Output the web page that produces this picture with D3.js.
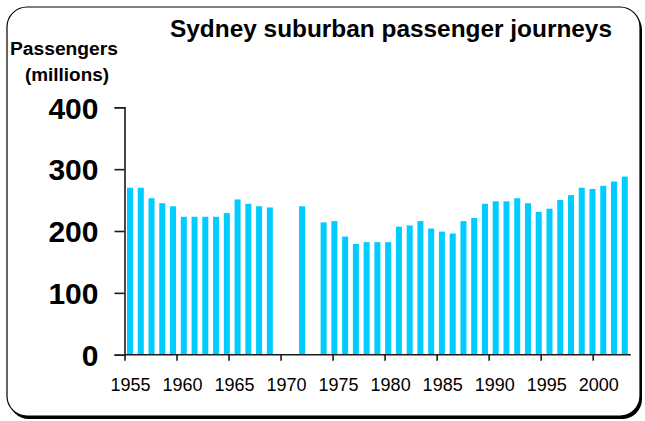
<!DOCTYPE html>
<html>
<head>
<meta charset="utf-8">
<script src="https://cdn.jsdelivr.net/npm/d3@7"></script>
<style>
  html, body { margin: 0; padding: 0; background: #fff; }
  svg { display: block; font-family: "Liberation Sans", Arial, Helvetica, sans-serif; }
</style>
</head>
<body>
<script>

// Financial years shown on the chart (gaps where no figure was published)
var years = [1955, 1956, 1957, 1958, 1959, 1960, 1961, 1962, 1963, 1964,
             1965, 1966, 1967, 1968, 1969, 1970, 1971, 1972, 1973, 1974,
             1975, 1976, 1977, 1978, 1979, 1980, 1981, 1982, 1983, 1984,
             1985, 1986, 1987, 1988, 1989, 1990, 1991, 1992, 1993, 1994,
             1995, 1996, 1997, 1998, 1999, 2000, 2001];

// Passenger journeys, millions (null = missing year)
var passengers = [270, 270, 253, 245, 240, 223, 223, 223, 223, 229,
                  251, 244, 240, 238, null, null, 240, null, 214, 216,
                  191, 179, 182, 182, 182, 207, 209, 216, 204, 199,
                  196, 216, 221, 244, 248, 248, 253, 245, 231, 236,
                  250, 258, 270, 268, 273, 280, 288];

var yTicks = [0, 100, 200, 300, 400];
var xTickYears = [1955, 1960, 1965, 1970, 1975, 1980, 1985, 1990, 1995, 2000];

var chartTitle = "Sydney suburban passenger journeys";
var yTitle = ["Passengers", "(millions)"];

var width = 645, height = 421;
var barColor = "#00ccff";
var axisColor = "#1a1a1a";

var svg = d3.select("body").append("svg")
            .attr("width", width)
            .attr("height", height);

// Frame with a small drop shadow on the lower right
svg.append("rect")
   .attr("x", 9).attr("y", 10)
   .attr("width", 633).attr("height", 409)
   .attr("rx", 20).attr("ry", 20)
   .attr("fill", "#000");
svg.append("rect")
   .attr("x", 7).attr("y", 7)
   .attr("width", 633).attr("height", 409)
   .attr("rx", 20).attr("ry", 20)
   .attr("fill", "#fff")
   .attr("stroke", "#000")
   .attr("stroke-width", 1.2);

// Scales
var y = d3.scaleLinear().domain([0, 400]).range([354.7, 107.3]);

// bars sit in equal slots along the axis
var xBand = d3.scaleBand()
              .domain(years)
              .range([124, 630.8])
              .paddingInner(0.44)
              .paddingOuter(0.28);

// year ticks use a plain linear scale
var xYear = d3.scaleLinear().domain([1955, 2000]).range([124.5, 592.7]);

// Bars
var barData = years.map(function(d, i){ return { year: d, value: passengers[i] }; })
                   .filter(function(d){ return d.value != null; });

svg.append("g")
   .attr("class", "bars")
   .selectAll("rect")
   .data(barData)
   .enter()
   .append("rect")
   .attr("x", function(d){ return xBand(d.year); })
   .attr("y", function(d){ return y(d.value); })
   .attr("width", xBand.bandwidth())
   .attr("height", function(d){ return y(0) - y(d.value); })
   .attr("fill", barColor);

// Y axis
var yAxis = d3.axisLeft(y)
              .tickValues(yTicks)
              .tickSize(10)
              .tickPadding(16)
              .tickFormat(d3.format("d"));

var yAxisG = svg.append("g")
                .attr("transform", "translate(124.5,0)")
                .call(yAxis);
yAxisG.select(".domain").attr("stroke", axisColor).attr("stroke-width", 1.6);
yAxisG.selectAll(".tick line").attr("stroke", axisColor).attr("stroke-width", 1.6);
yAxisG.selectAll(".tick text")
      .attr("fill", "#000")
      .attr("font-size", 30)
      .attr("font-weight", "bold")
      .attr("font-family", "'Liberation Sans', Arial, sans-serif")
      .attr("dy", "0.36em");

// X axis
var xAxis = d3.axisBottom(xYear)
              .tickValues(xTickYears)
              .tickSize(6)
              .tickSizeOuter(0)
              .tickFormat(d3.format("d"));

var xAxisG = svg.append("g")
                .attr("transform", "translate(0," + y(0) + ")")
                .call(xAxis);
xAxisG.select(".domain")
      .attr("d", "M124.5,0H630.8")
      .attr("stroke", axisColor)
      .attr("stroke-width", 1.6);
xAxisG.selectAll(".tick line").attr("stroke", axisColor).attr("stroke-width", 1.6);
xAxisG.selectAll(".tick text")
      .attr("fill", "#000")
      .attr("font-size", 18)
      .attr("font-family", "'Liberation Sans', Arial, sans-serif")
      .attr("x", 5.5)
      .attr("y", 36)
      .attr("dy", 0);

// Titles
svg.append("text")
   .attr("x", 170)
   .attr("y", 37)
   .attr("font-size", 23)
   .attr("font-weight", "bold")
   .attr("textLength", 442)
   .attr("lengthAdjust", "spacingAndGlyphs")
   .text(chartTitle);

svg.append("text")
   .attr("x", 10)
   .attr("y", 55)
   .attr("font-size", 18)
   .attr("font-weight", "bold")
   .attr("textLength", 108)
   .attr("lengthAdjust", "spacingAndGlyphs")
   .text(yTitle[0]);

svg.append("text")
   .attr("x", 25)
   .attr("y", 81)
   .attr("font-size", 18)
   .attr("font-weight", "bold")
   .attr("textLength", 84)
   .attr("lengthAdjust", "spacingAndGlyphs")
   .text(yTitle[1]);

</script>
</body>
</html>
